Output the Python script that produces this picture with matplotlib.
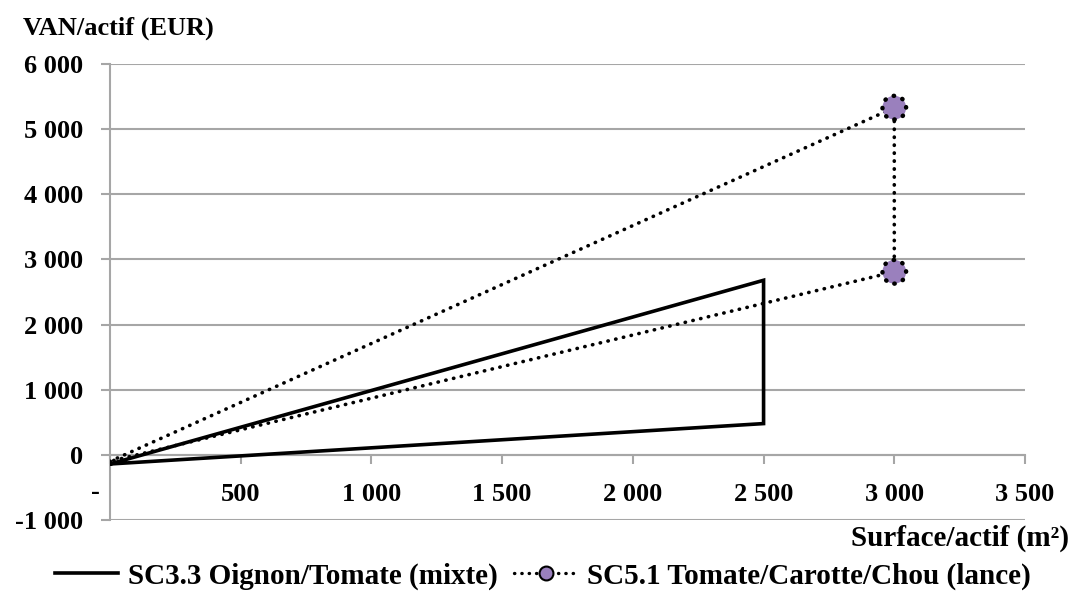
import matplotlib
matplotlib.use("Agg")
import matplotlib.pyplot as plt
from matplotlib.lines import Line2D

plt.rcParams['font.family'] = ['Liberation Serif', 'DejaVu Serif']
plt.rcParams['font.weight'] = 'bold'

# Series: surface per worker (m²) vs NPV per worker (EUR)
sc33_x = [0, 2500, 2500, 0]
sc33_y = [-140, 2680, 480, -140]
sc51_x = [0, 3000, 3000, 0]
sc51_y = [-100, 5330, 2810, -100]

sc33_label = "SC3.3 Oignon/Tomate (mixte)"
sc51_label = "SC5.1 Tomate/Carotte/Chou (lance)"

x_ticks = [0, 500, 1000, 1500, 2000, 2500, 3000, 3500]
x_tick_labels = ["", "500", "1 000", "1 500", "2 000", "2 500", "3 000", "3 500"]
zero_x_label = "-"
y_ticks = [-1000, 0, 1000, 2000, 3000, 4000, 5000, 6000]
y_tick_labels = ["-1 000", "0", "1 000", "2 000", "3 000", "4 000", "5 000", "6 000"]

GRID = "#a6a6a6"
PURPLE = "#9a80bd"
DOTS = (0, (0.1, 2.1))

fig = plt.figure(figsize=(10.72, 5.96), dpi=100)
ax = fig.add_axes([110/1072, 76/596, 915/1072, 456/596])

ax.set_xlim(0, 3500)
ax.set_ylim(-1000, 6000)

for yv in y_ticks:
    ax.axhline(yv, color=GRID, lw=1.5, zorder=0)

ax.plot(sc33_x, sc33_y, color="black", lw=2.6, solid_joinstyle="miter", zorder=3)
ax.plot(sc51_x, sc51_y, color="black", lw=2.6, linestyle=DOTS,
        dash_capstyle="round", zorder=3)
pts = ax.scatter(sc51_x[1:3], sc51_y[1:3], s=290, facecolor=PURPLE, edgecolor="black",
                 linewidths=3.2, linestyle=(0, (0.1, 2.0)), zorder=4)
pts.set_capstyle("round")

for side in ("top", "right"):
    ax.spines[side].set_visible(False)
ax.spines["left"].set_color(GRID)
ax.spines["left"].set_linewidth(1.5)
ax.spines["bottom"].set_position(("data", 0))
ax.spines["bottom"].set_color(GRID)
ax.spines["bottom"].set_linewidth(1.5)

ax.set_xticks(x_ticks)
ax.set_xticklabels(x_tick_labels)
ax.set_yticks(y_ticks)
ax.set_yticklabels(y_tick_labels)
ax.tick_params(axis="both", which="major", direction="out", length=6.5, width=1.5,
               color=GRID, labelsize=19)
ax.tick_params(axis="x", pad=13.5)
ax.tick_params(axis="y", pad=12.5)
for lbl in ax.get_xticklabels() + ax.get_yticklabels():
    lbl.set_fontweight("bold")
ax.text(-54, -585, zero_x_label, fontsize=19, fontweight="bold",
        ha="center", va="center", clip_on=False)

fig.text(23/1072, 1 - 28/596, "VAN/actif (EUR)", fontsize=19, fontweight="bold",
         ha="left", va="center")
fig.text(1069/1072, 1 - 538/596, "Surface/actif (m²)", fontsize=21, fontweight="bold",
         ha="right", va="center")

handles = [
    Line2D([0], [0], color="black", lw=2.6),
    Line2D([0], [0], color="black", lw=2.4, linestyle=DOTS, dash_capstyle="round",
           marker="o", markersize=10, markerfacecolor=PURPLE,
           markeredgecolor="black", markeredgewidth=1.5),
]
fig.legend(handles, [sc33_label, sc51_label], loc="center", ncol=2,
           bbox_to_anchor=(0.5065, 1 - 576/596), frameon=False,
           prop={"weight": "bold", "size": 21}, handlelength=2.15,
           handletextpad=0.35, columnspacing=0.58)

fig.savefig("out.png", dpi=100)
